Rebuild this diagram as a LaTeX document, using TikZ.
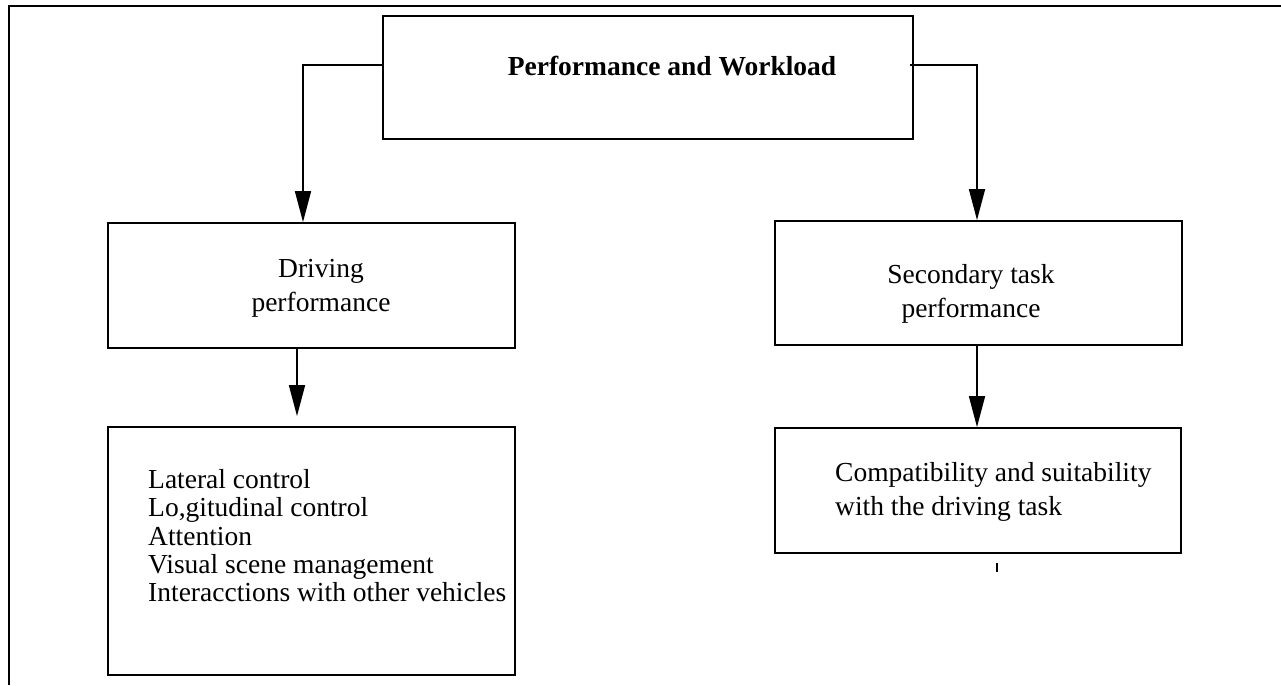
\documentclass[tikz,border=0pt]{standalone}
\usepackage{fontspec}
\setmainfont{Liberation Serif}
\usetikzlibrary{arrows.meta}
\tikzset{
  box/.style={
    rectangle,
    draw,
    line width=1.8pt,
    inner sep=0pt
  },
  boxtext/.style={
    inner sep=0pt,
    font=\fontsize{27.5}{34.5}\selectfont
  },
  titletext/.style={
    inner sep=0pt,
    font=\fontsize{27.5}{34.5}\selectfont\bfseries
  },
  listtext/.style={
    inner sep=0pt,
    align=left,
    font=\fontsize{27.5}{28.4}\selectfont
  },
  arrow/.style={-{Triangle[length=31pt, width=16pt]}, line width=1.6pt},
  frameline/.style={line width=1.5pt}
}

\begin{document}
\begin{tikzpicture}[x=1pt, y=-1pt]
\useasboundingbox (0,0) rectangle (1281,685);
\draw[frameline] (9,685) -- (9,6) -- (1281,6);

% boxes
\node[box, minimum width=530pt, minimum height=123pt] (perf) at (648,77.5) {};
\node[box, minimum width=407pt, minimum height=125pt] (drive) at (311.5,285.5) {};
\node[box, minimum width=407pt, minimum height=248pt] (lat) at (311.5,551) {};
\node[box, minimum width=407pt, minimum height=124pt] (sec) at (978.5,283) {};
\node[box, minimum width=406pt, minimum height=125pt] (comp) at (978,490.5) {};

% texts
\node[titletext, anchor=base] (perftitle) at (672,75) {Performance and Workload};
\node[boxtext, align=center, anchor=north] (drivetext) at (321,259) {Driving\\performance};
\node[boxtext, align=center, anchor=north] (sectext) at (971,264) {Secondary task\\performance};
\node[listtext, anchor=north west] (lattext) at (148,469) {Lateral control\\Lo,gitudinal control\\Attention\\Visual scene management\\Interacctions with other vehicles};
\node[boxtext, align=left, anchor=north west] (comptext) at (835,462) {Compatibility and suitability\\with the driving task};

% connectors
\coordinate (forkL) at (303,65);
\coordinate (forkR) at (977,65);
\draw[arrow] (perf.west |- forkL) -- (forkL) -- (forkL |- drive.north);
\draw[arrow, shorten <=-4pt] (perf.east |- forkR) -- (forkR) -- (forkR |- sec.north);
\draw[arrow] ([xshift=-14.5pt]drive.south) -- ([xshift=-14.5pt, yshift=10pt]lat.north);
\draw[arrow] (forkR |- sec.south) -- (forkR |- comp.north);
\draw[line width=1.8pt] (997,563) -- (997,572);
\end{tikzpicture}
\end{document}
